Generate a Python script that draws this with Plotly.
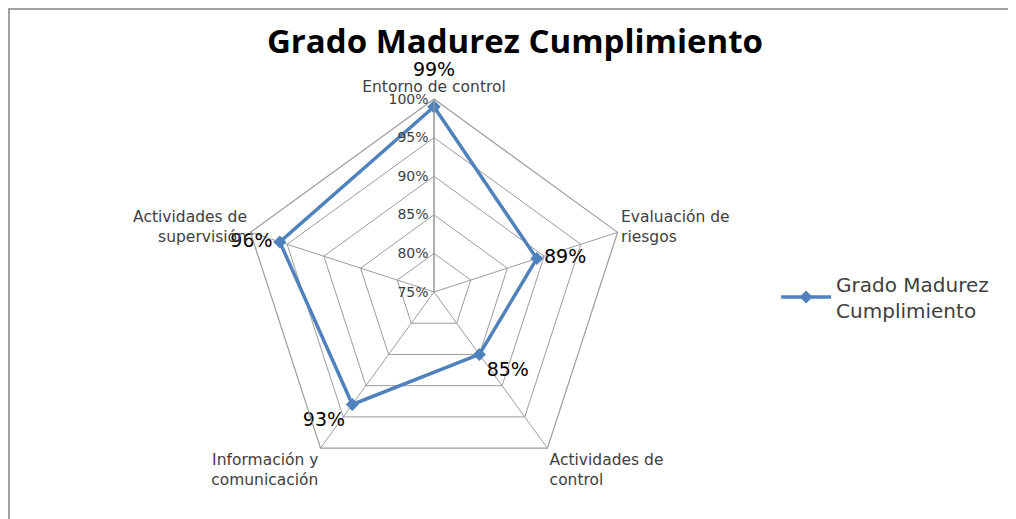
import plotly.graph_objects as go

categories = ["Entorno de control", "Evaluación de<br>riesgos", "Actividades de<br>control",
              "Información y<br>comunicación", "Actividades de<br>supervisión"]
values = [0.99, 0.89, 0.85, 0.93, 0.96]
value_labels = ["99%", "89%", "85%", "93%", "96%"]
label_positions = ["top center", "middle right", "bottom right", "bottom left", "middle left"]
series_name = "Grado Madurez<br>Cumplimiento"
title_text = "Grado Madurez Cumplimiento"

W, H = 1016, 519
CX, CY, R = 426, 284, 193  # polar centre and half-size, px from the paper's top-left
GRID = "#9C9C9C"
LABEL_FONT = dict(family="DejaVu Sans", size=19, color="#000000")

fig = go.Figure()
fig.add_trace(go.Scatterpolar(
    r=values + [values[0]],
    theta=categories + [categories[0]],
    mode="lines+markers+text",
    name=series_name,
    line=dict(color="#4F81BD", width=3.5),
    marker=dict(symbol="diamond", size=10, color="#4F81BD"),
    text=[""] + value_labels[1:] + [""],
    textposition=label_positions + ["top center"],
    textfont=LABEL_FONT,
    cliponaxis=False,
))
# label of the top point sits higher, above the category name (as in the reference)
fig.add_trace(go.Scatterpolar(
    r=values[:1], theta=categories[:1],
    mode="markers+text",
    marker=dict(size=40, color="rgba(0,0,0,0)"),
    text=value_labels[:1], textposition=label_positions[:1],
    textfont=LABEL_FONT, showlegend=False, hoverinfo="skip", cliponaxis=False,
))

fig.update_layout(
    width=W, height=H,
    margin=dict(l=0, r=0, t=0, b=0),
    paper_bgcolor="white",
    title=dict(text="<b>" + title_text + "</b>", x=0.499, xanchor="center", y=1 - 33 / H, yanchor="middle",
               font=dict(family="Open Sans", size=33, color="#000000")),
    polar=dict(
        domain=dict(x=[(CX - R) / W, (CX + R) / W], y=[(H - CY - R) / H, (H - CY + R) / H]),
        gridshape="linear",
        bgcolor="white",
        angularaxis=dict(direction="clockwise", rotation=90, showline=True, linecolor=GRID, linewidth=1.2,
                         gridcolor=GRID, gridwidth=1.2, ticks="",
                         tickfont=dict(family="DejaVu Sans", size=15.5, color="#404040")),
        radialaxis=dict(range=[0.75, 1.0], dtick=0.05, tickformat=".0%",
                        angle=90, side="counterclockwise",
                        tickangle=90, showline=True, linecolor=GRID, linewidth=1.2, gridcolor=GRID, gridwidth=1.2,
                        ticks="",
                        tickfont=dict(family="DejaVu Sans", size=14, color="#404040")),
    ),
    showlegend=True,
    legend=dict(x=0.756, y=0.443, xanchor="left", yanchor="middle",
                font=dict(family="DejaVu Sans", size=20, color="#404040"), itemwidth=50),
    shapes=[dict(type="rect", xref="paper", yref="paper", x0=1 / W, x1=1.05, y0=-0.05, y1=1 - 1 / H,
                 line=dict(color="#A0A0A0", width=2))],
)

fig.write_html("out.html")
